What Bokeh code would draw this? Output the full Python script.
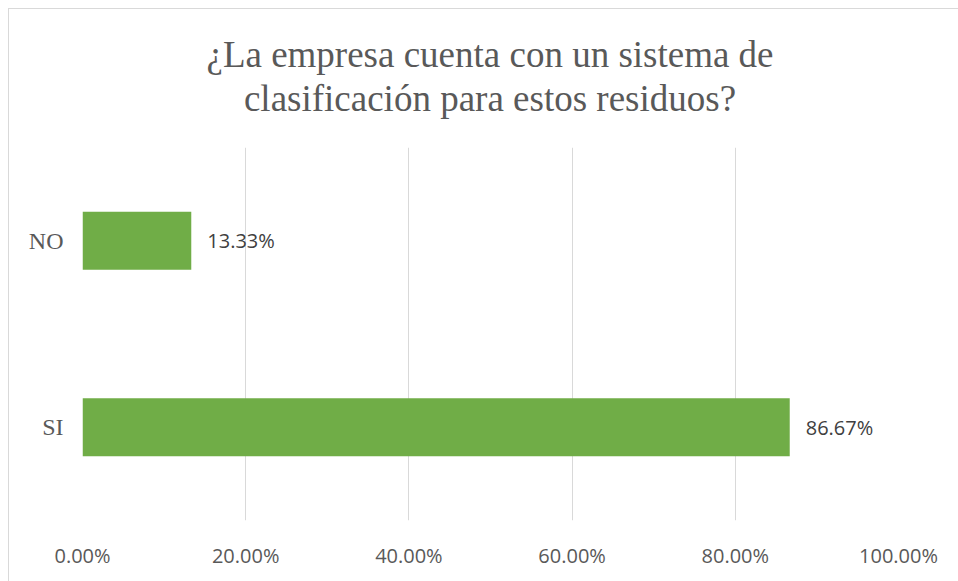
from bokeh.plotting import figure
from bokeh.models import ColumnDataSource, LabelSet, NumeralTickFormatter, Range1d, FixedTicker, Div
from bokeh.layouts import column
from bokeh.core.properties import value
from bokeh.embed import file_html
from bokeh.resources import INLINE

categories = ["SI", "NO"]
values = [0.8667, 0.1333]
value_labels = ["86.67%", "13.33%"]
x_ticks = [0.0, 0.2, 0.4, 0.6, 0.8, 1.0]
title_lines = ["¿La empresa cuenta con un sistema de", "clasificación para estos residuos?"]

source = ColumnDataSource(data=dict(cat=categories, val=values, lab=value_labels))

title_html = ("<div style=\"display:block; width:949px; box-sizing:border-box; text-align:center; "
              "font-family:'Liberation Serif'; font-size:37px; "
              "line-height:44px; color:#595959; padding-top:24px; padding-left:13px; "
              "white-space:nowrap;\">" + "<br>".join(title_lines) + "</div>")
title_div = Div(text=title_html, width=949, height=138, margin=0)

p = figure(width=949, height=434, y_range=categories, x_range=Range1d(0, 1.0),
           output_backend="svg", toolbar_location=None,
           min_border_left=73, min_border_right=60, min_border_top=0, min_border_bottom=61)
p.title = None

p.hbar(y="cat", right="val", left=0, height=0.31, source=source,
       fill_color="#70ad47", line_color=None)

labels = LabelSet(x="val", y="cat", text="lab", source=source, x_offset=16,
                  text_baseline="middle", text_align="left",
                  text_font=value("Open Sans"), text_font_size=value("20px"), text_color="#404040")
p.add_layout(labels)

p.xaxis.ticker = FixedTicker(ticks=x_ticks)
p.xaxis.formatter = NumeralTickFormatter(format="0.00%")
p.xaxis.axis_line_color = None
p.xaxis.major_tick_line_color = None
p.xaxis.minor_tick_line_color = None
p.xaxis.major_label_text_font = "Open Sans"
p.xaxis.major_label_text_font_size = "20px"
p.xaxis.major_label_text_color = "#595959"
p.xaxis.major_label_standoff = 15

p.yaxis.axis_line_color = None
p.yaxis.major_tick_line_color = None
p.yaxis.minor_tick_line_color = None
p.yaxis.major_label_text_font = "Liberation Serif"
p.yaxis.major_label_text_font_size = "24px"
p.yaxis.major_label_text_color = "#595959"
p.yaxis.major_label_standoff = 13

p.xgrid.grid_line_color = "#d9d9d9"
p.xgrid.grid_line_width = 1
p.ygrid.grid_line_color = None
p.outline_line_color = None
p.background_fill_color = "white"
p.border_fill_color = "white"

layout = column(title_div, p, spacing=0)
layout.styles = {"margin-left": "8px", "margin-top": "8px", "background-color": "white",
                 "border-top": "1px solid #d9d9d9", "border-left": "1px solid #d9d9d9"}

open("out.html", "w").write(file_html(layout, INLINE))
